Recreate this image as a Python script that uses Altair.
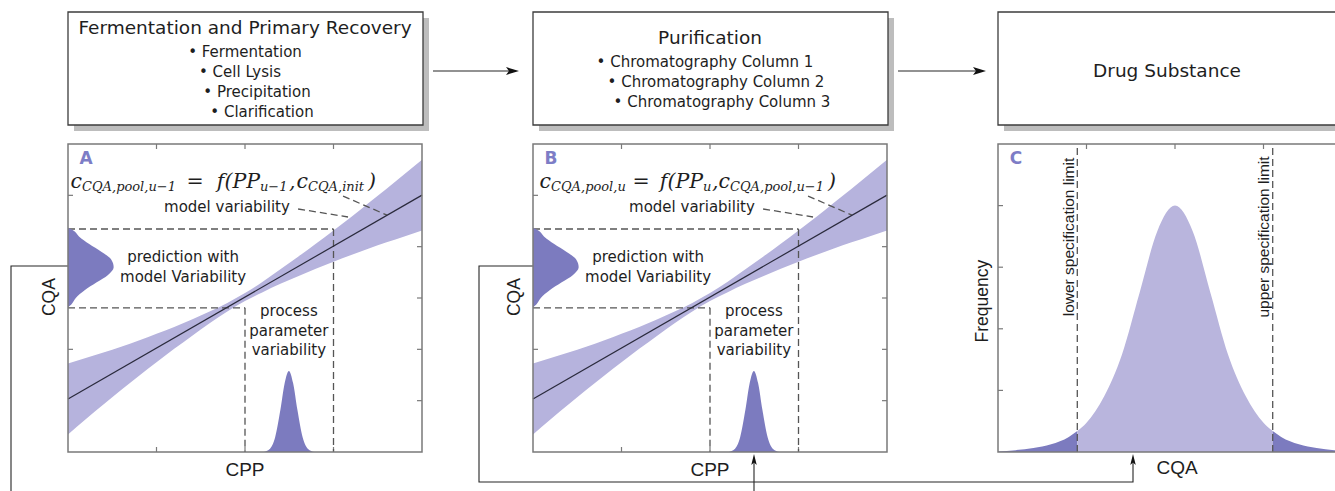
import altair as alt
import pandas as pd

W, H = 1335, 491

INK = "#1e1e1e"
FRAME = "#7a7a7a"
DASH = "#555555"
BAND = "#b6b3dd"
DENSITY = "#7c7bbf"
SPREAD = "#b9b5dd"
LETTER = "#7d7dc6"

SANS = "DejaVu Sans"
NARROW = "Liberation Sans"
MATH = "DejaVu Serif"

# ---------------- process flow boxes ----------------
box_left = [68, 533, 998]
box_right = [423, 888, 1345]
BOX_TOP, BOX_BOTTOM, SHADOW = 12, 125, 6

box_titles = ["Fermentation and Primary Recovery", "Purification", "Drug Substance"]
box_title_x = [245, 710, 1167]
box_title_y = [28, 38, 71]

recovery_steps = ["Fermentation", "Cell Lysis", "Precipitation", "Clarification"]
recovery_step_x = [245, 240, 257, 262]
recovery_step_y = [52, 72, 92, 112]

purification_steps = ["Chromatography Column 1", "Chromatography Column 2", "Chromatography Column 3"]
purification_step_x = [705, 716, 722]
purification_step_y = [62, 82, 102]

# connectors: flow arrows on top, feedback of predicted CQA into the next unit
connector_paths = {
    "flow1": [(433, 71), (513, 71)],
    "flow2": [(898, 71), (980, 71)],
    "fromA": [(68, 266), (11, 266), (11, 491)],
    "intoB": [(754, 491), (754, 460)],
    "fromB": [(533, 266), (479, 266), (479, 482), (1133, 482), (1133, 460)],
}
right_heads = [(512.5, 71), (979.5, 71)]
up_heads = [(754, 459.5), (1133, 459.5)]

# ---------------- panels (normalised units) ----------------
PANEL_W, PANEL_H, PANEL_TOP = 354, 308, 144
panel_left = {"A": 68, "B": 533, "C": 998}
TICK = 5

# regression of CQA on CPP with its confidence band
cpp_grid = [0.0, 0.05, 0.1, 0.15, 0.2, 0.25, 0.3, 0.35, 0.4, 0.45, 0.5,
            0.55, 0.6, 0.65, 0.7, 0.75, 0.8, 0.85, 0.9, 0.95, 1.0]
band_upper = [0.287, 0.305, 0.323, 0.342, 0.362, 0.384, 0.406, 0.430, 0.456, 0.484, 0.516,
              0.553, 0.593, 0.634, 0.676, 0.719, 0.763, 0.809, 0.855, 0.902, 0.949]
band_lower = [0.057, 0.106, 0.154, 0.201, 0.247, 0.291, 0.335, 0.377, 0.418, 0.456, 0.490,
              0.519, 0.546, 0.571, 0.595, 0.618, 0.640, 0.661, 0.681, 0.700, 0.719]
fit_cpp = [0.0, 1.0]
fit_cqa = [0.172, 0.834]

# operating window
CPP_LO, CPP_HI = 0.5, 0.75
CQA_LO, CQA_HI = 0.468, 0.724

# predicted CQA distribution (drawn sideways on the CQA axis)
pred_cqa = [0.470, 0.480, 0.500, 0.525, 0.550, 0.575, 0.600, 0.625, 0.650, 0.675, 0.700, 0.720, 0.728]
pred_width = [0.000, 0.010, 0.022, 0.047, 0.080, 0.113, 0.129, 0.122, 0.094, 0.060, 0.031, 0.014, 0.000]

# process parameter distribution on the CPP axis
pp_cpp = [0.552, 0.570, 0.585, 0.600, 0.612, 0.624, 0.636, 0.648, 0.663, 0.678, 0.696]
pp_dens = [0.000, 0.010, 0.047, 0.137, 0.223, 0.263, 0.223, 0.137, 0.047, 0.010, 0.000]

# leader lines for "model variability"
leaders = [((0.777, 0.831), (0.901, 0.769)), ((0.650, 0.789), (0.791, 0.763))]

annotations = ["model variability", "prediction with", "model Variability",
               "process", "parameter", "variability"]
annotation_x = [0.449, 0.325, 0.325, 0.624, 0.624, 0.624]
annotation_y = [0.795, 0.633, 0.568, 0.458, 0.393, 0.331]

# drug substance CQA distribution with specification limits
cqa_grid = [0.0, 0.05, 0.10, 0.15, 0.20, 0.224, 0.25, 0.30, 0.35, 0.40, 0.45, 0.50,
            0.55, 0.60, 0.65, 0.70, 0.75, 0.776, 0.80, 0.85, 0.90, 0.95, 1.0]
cqa_freq = [0.002, 0.006, 0.013, 0.025, 0.049, 0.068, 0.095, 0.181, 0.316, 0.517, 0.717, 0.800,
            0.717, 0.517, 0.316, 0.181, 0.095, 0.068, 0.049, 0.025, 0.013, 0.006, 0.002]
LSL, USL = 0.224, 0.776

# equations: (text, anchor x, kind, alignment) – main symbols and subscripts
MAIN_BASE, SUB_BASE = 188, 191
formula_A = [("c", 82, "main", "right"), ("CQA,pool,u−1", 82, "sub", "left"),
             ("=", 195, "main", "center"), ("f(PP", 260, "main", "right"),
             ("u−1", 260, "sub", "left"), (",", 289, "main", "left"),
             ("c", 308, "main", "right"), ("CQA,init", 308, "sub", "left"),
             (")", 368, "main", "left")]
formula_B = [("c", 551, "main", "right"), ("CQA,pool,u", 551, "sub", "left"),
             ("=", 641, "main", "center"), ("f(PP", 703, "main", "right"),
             ("u", 703, "sub", "left"), (",", 712, "main", "left"),
             ("c", 730, "main", "right"), ("CQA,pool,u−1", 730, "sub", "left"),
             (")", 828, "main", "left")]

# ---------------- canvas layer ----------------
CX = alt.Scale(domain=[0, W], nice=False, zero=False)
CY = alt.Scale(domain=[0, H], reverse=True, nice=False, zero=False)


def cx(f):
    return alt.X(f, type="quantitative", scale=CX, axis=None)


def cy(f):
    return alt.Y(f, type="quantitative", scale=CY, axis=None)


boxes = pd.DataFrame({"x0": box_left, "x1": box_right,
                      "y0": [BOX_TOP] * 3, "y1": [BOX_BOTTOM] * 3})
shadows = boxes + SHADOW

shadow_layer = alt.Chart(shadows).mark_rect(color="#bdbdbd").encode(
    x=cx("x0"), x2="x1", y=cy("y0"), y2="y1")
box_layer = alt.Chart(boxes).mark_rect(fill="white", stroke="#3c3c3c", strokeWidth=1.3).encode(
    x=cx("x0"), x2="x1", y=cy("y0"), y2="y1")

titles = pd.DataFrame({"t": box_titles, "x": box_title_x, "y": box_title_y})
title_layer = alt.Chart(titles).mark_text(font=SANS, fontSize=18.5, color=INK).encode(
    x=cx("x"), y=cy("y"), text="t")

steps = pd.DataFrame({
    "t": ["• " + s for s in recovery_steps + purification_steps],
    "x": recovery_step_x + purification_step_x,
    "y": recovery_step_y + purification_step_y,
})
step_layer = alt.Chart(steps).mark_text(font=SANS, fontSize=15, color=INK).encode(
    x=cx("x"), y=cy("y"), text="t")

path_rows = []
for pid, pts in connector_paths.items():
    for i, (x, y) in enumerate(pts):
        path_rows.append({"path": pid, "step": i, "x": x, "y": y})
connector_layer = alt.Chart(pd.DataFrame(path_rows)).mark_line(
    color="#262626", strokeWidth=1.1).encode(
    x=cx("x"), y=cy("y"), detail="path:N", order="step:Q")

RIGHT_HEAD = "M1,0 L-1,-0.6 L-0.55,0 L-1,0.6 Z"
UP_HEAD = "M0,-1 L0.5,1 L0,0.55 L-0.5,1 Z"
right_head_layer = alt.Chart(pd.DataFrame(right_heads, columns=["x", "y"])).mark_point(
    shape=RIGHT_HEAD, filled=True, size=169, color="#111", opacity=1).encode(x=cx("x"), y=cy("y"))
up_head_layer = alt.Chart(pd.DataFrame(up_heads, columns=["x", "y"])).mark_point(
    shape=UP_HEAD, filled=True, size=121, color="#111", opacity=1).encode(x=cx("x"), y=cy("y"))


def formula_layers(parts):
    layers = []
    for align in ("left", "right", "center"):
        for kind, size, base in (("main", 20.5, MAIN_BASE), ("sub", 13, SUB_BASE)):
            rows = [{"t": t, "x": x} for t, x, k, a in parts if k == kind and a == align]
            if not rows:
                continue
            layers.append(alt.Chart(pd.DataFrame(rows)).mark_text(
                font=MATH, fontStyle="italic", fontSize=size, align=align,
                baseline="alphabetic", color=INK).encode(
                x=cx("x"), y=alt.value(base), text="t"))
    return layers


canvas = alt.layer(
    shadow_layer, box_layer, title_layer, step_layer, connector_layer,
    right_head_layer, up_head_layer,
    *formula_layers(formula_A), *formula_layers(formula_B),
)


# ---------------- panel helpers ----------------
def panel_scales(left):
    xs = alt.Scale(domain=[-left / PANEL_W, (W - left) / PANEL_W], nice=False, zero=False)
    ys = alt.Scale(domain=[1 - (H - PANEL_TOP) / PANEL_H, 1 + PANEL_TOP / PANEL_H],
                   nice=False, zero=False)
    return xs, ys


def frame_layers(X, Y, xticks, yticks):
    tx, ty = TICK / PANEL_W, TICK / PANEL_H
    rows = []
    for t in xticks:
        rows.append({"x": t, "x2": t, "y": 0, "y2": ty})
        rows.append({"x": t, "x2": t, "y": 1, "y2": 1 - ty})
    for t in yticks:
        rows.append({"x": 0, "x2": tx, "y": t, "y2": t})
        rows.append({"x": 1, "x2": 1 - tx, "y": t, "y2": t})
    ticks = alt.Chart(pd.DataFrame(rows)).mark_rule(color=FRAME, strokeWidth=1.2).encode(
        x=X("x"), x2="x2", y=Y("y"), y2="y2")
    frame = alt.Chart(pd.DataFrame({"x": [0], "x2": [1], "y": [0], "y2": [1]})).mark_rect(
        fillOpacity=0, stroke=FRAME, strokeWidth=1.5).encode(x=X("x"), x2="x2", y=Y("y"), y2="y2")
    return ticks, frame


def text_layer(X, Y, labels, xs, ys, **style):
    df = pd.DataFrame({"t": labels, "x": xs, "y": ys})
    return alt.Chart(df).mark_text(**style).encode(x=X("x"), y=Y("y"), text="t")


def regression_panel(name):
    xs, ys = panel_scales(panel_left[name])

    def X(f):
        return alt.X(f, type="quantitative", scale=xs, axis=None)

    def Y(f):
        return alt.Y(f, type="quantitative", scale=ys, axis=None)

    ticks, frame = frame_layers(X, Y, [0.25, 0.5, 0.75], [1 / 6, 2 / 6, 3 / 6, 4 / 6, 5 / 6])

    band = alt.Chart(pd.DataFrame({"cpp": cpp_grid, "upper": band_upper, "lower": band_lower})
                     ).mark_area(color=BAND, interpolate="monotone").encode(
        x=X("cpp"), y=Y("upper"), y2="lower")

    fit = alt.Chart(pd.DataFrame({"cpp": fit_cpp, "cqa": fit_cqa})).mark_line(
        color="#2a2a3c", strokeWidth=1.2).encode(x=X("cpp"), y=Y("cqa"))

    guide_rows = [
        {"x": 0, "x2": CPP_HI, "y": CQA_HI, "y2": CQA_HI},
        {"x": CPP_HI, "x2": CPP_HI, "y": CQA_HI, "y2": 0},
        {"x": 0, "x2": CPP_LO, "y": CQA_LO, "y2": CQA_LO},
        {"x": CPP_LO, "x2": CPP_LO, "y": CQA_LO, "y2": 0},
    ]
    for (a, b) in leaders:
        guide_rows.append({"x": a[0], "x2": b[0], "y": a[1], "y2": b[1]})
    guides = alt.Chart(pd.DataFrame(guide_rows)).mark_rule(
        color=DASH, strokeWidth=1.3, strokeDash=[7, 4]).encode(
        x=X("x"), x2="x2", y=Y("y"), y2="y2")

    pred = alt.Chart(pd.DataFrame({"cqa": pred_cqa, "w": pred_width, "base": 0.0})).mark_area(
        orient="horizontal", color=DENSITY, interpolate="monotone").encode(
        y=Y("cqa"), x=X("w"), x2="base")

    pp = alt.Chart(pd.DataFrame({"cpp": pp_cpp, "d": pp_dens, "base": 0.0})).mark_area(
        color=DENSITY, interpolate="monotone").encode(x=X("cpp"), y=Y("d"), y2="base")

    notes = text_layer(X, Y, annotations, annotation_x, annotation_y,
                       font=SANS, fontSize=15, color=INK)
    letter = text_layer(X, Y, [name], [0.051], [0.95], font=SANS, fontSize=17,
                        fontWeight="bold", color=LETTER)
    xlab = text_layer(X, Y, ["CPP"], [0.5], [-0.058], font=NARROW, fontSize=19, color=INK)
    ylab = text_layer(X, Y, ["CQA"], [-0.051], [0.503], font=NARROW, fontSize=17.5,
                      color=INK, angle=270)

    return alt.layer(ticks, band, guides, fit, pred, pp, notes, letter, xlab, ylab, frame)


def release_panel():
    xs, ys = panel_scales(panel_left["C"])

    def X(f):
        return alt.X(f, type="quantitative", scale=xs, axis=None)

    def Y(f):
        return alt.Y(f, type="quantitative", scale=ys, axis=None)

    ticks, frame = frame_layers(X, Y, [0.25, 0.5, 0.75], [0.2, 0.4, 0.6, 0.8])

    df = pd.DataFrame({"cqa": cqa_grid, "f": cqa_freq, "base": 0.0})
    inside = df[(df.cqa >= LSL) & (df.cqa <= USL)]
    low = df[df.cqa <= LSL]
    high = df[df.cqa >= USL]

    def area(d, colour):
        return alt.Chart(d).mark_area(color=colour, interpolate="monotone").encode(
            x=X("cqa"), y=Y("f"), y2="base")

    limits = alt.Chart(pd.DataFrame({"x": [LSL, USL], "y": 0.0, "y2": 1.0})).mark_rule(
        color=DASH, strokeWidth=1.3, strokeDash=[7, 4]).encode(x=X("x"), y=Y("y"), y2="y2")

    spec = text_layer(X, Y, ["lower specification limit", "upper specification limit"],
                      [0.201, 0.751], [0.698, 0.698], font=NARROW, fontSize=15.5,
                      color=INK, angle=270)
    letter = text_layer(X, Y, ["C"], [0.051], [0.95], font=SANS, fontSize=17,
                        fontWeight="bold", color=LETTER)
    xlab = text_layer(X, Y, ["CQA"], [0.506], [-0.052], font=NARROW, fontSize=19, color=INK)
    ylab = text_layer(X, Y, ["Frequency"], [-0.042], [0.49], font=NARROW, fontSize=17.5,
                      color=INK, angle=270)

    return alt.layer(ticks, area(low, DENSITY), area(inside, SPREAD), area(high, DENSITY),
                     limits, spec, letter, xlab, ylab, frame)


chart = alt.layer(
    canvas, regression_panel("A"), regression_panel("B"), release_panel()
).resolve_scale(
    x="independent", y="independent"
).properties(
    width=W, height=H, padding=0, autosize=alt.AutoSizeParams(type="none")
).configure_view(stroke=None)

chart.save("out.html", embed_options={"renderer": "svg", "actions": False})
